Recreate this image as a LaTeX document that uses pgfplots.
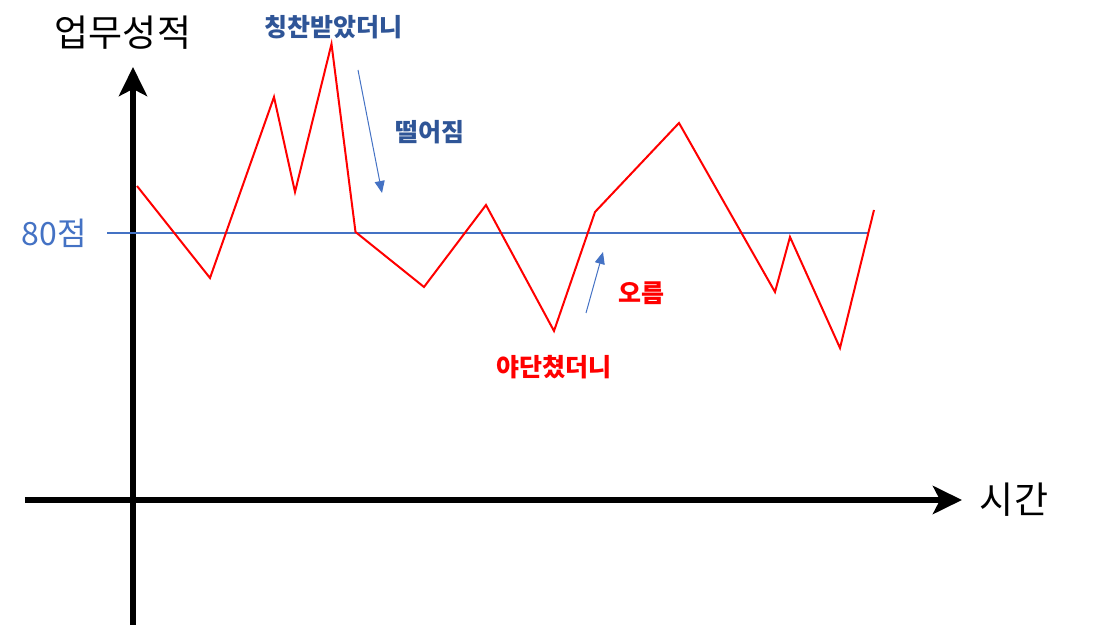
\documentclass[border=0pt]{standalone}
\usepackage{fontspec}
\setmainfont{Noto Sans CJK KR}
\usepackage{pgfplots}
\pgfplotsset{compat=1.18}
\usetikzlibrary{arrows.meta}
\definecolor{lblue}{HTML}{4472C4}
\definecolor{dblue}{HTML}{2F5597}
\definecolor{pred}{HTML}{FF0000}
\begin{document}
\begin{tikzpicture}
\begin{axis}[
  x=1pt, y=1pt,
  xmin=-108, xmax=829, ymin=-125, ymax=433,
  axis lines=middle,
  axis line style={line width=6pt, black, -{Stealth[length=29pt,width=28pt,inset=7pt]}},
  xtick=\empty, ytick=\empty,
  clip=false,
]
\path[use as bounding box] (axis cs:-133,-127) rectangle (axis cs:979,500);
\addplot[lblue, line width=1.2pt] coordinates {(-26,267) (736,267)};
\addplot[pred, line width=2pt, line join=miter] coordinates {
(4,314) (77,222) (141,403) (162,308) (198.5,456) (222.5,268) (291,213) (353,295) (421,169) (462,288) (546,377) (642,208) (657,263) (707,152) (741,290)
};
\draw[lblue, line width=1pt, -{Triangle[length=12pt,width=10pt]}] (axis cs:225,430) -- (axis cs:249,307);
\draw[lblue, line width=1pt, -{Triangle[length=12pt,width=10pt]}] (axis cs:453,187) -- (axis cs:470,248);
\node[font=\fontsize{37}{44}\selectfont] at (axis cs:-10,467) {업무성적};
\node[font=\fontsize{37}{44}\selectfont] at (axis cs:881,0) {시간};
\node[font=\fontsize{32}{38}\selectfont, text=lblue] at (axis cs:-79,267) {80점};
\node[font=\bfseries\fontsize{25}{30}\selectfont, text=dblue] at (axis cs:200,473) {칭찬받았더니};
\node[font=\bfseries\fontsize{25}{30}\selectfont, text=dblue] at (axis cs:297,368) {떨어짐};
\node[font=\bfseries\fontsize{25}{30}\selectfont, text=pred] at (axis cs:508,207) {오름};
\node[font=\bfseries\fontsize{25}{30}\selectfont, text=pred] at (axis cs:421,133) {야단쳤더니};
\end{axis}
\end{tikzpicture}
\end{document}
